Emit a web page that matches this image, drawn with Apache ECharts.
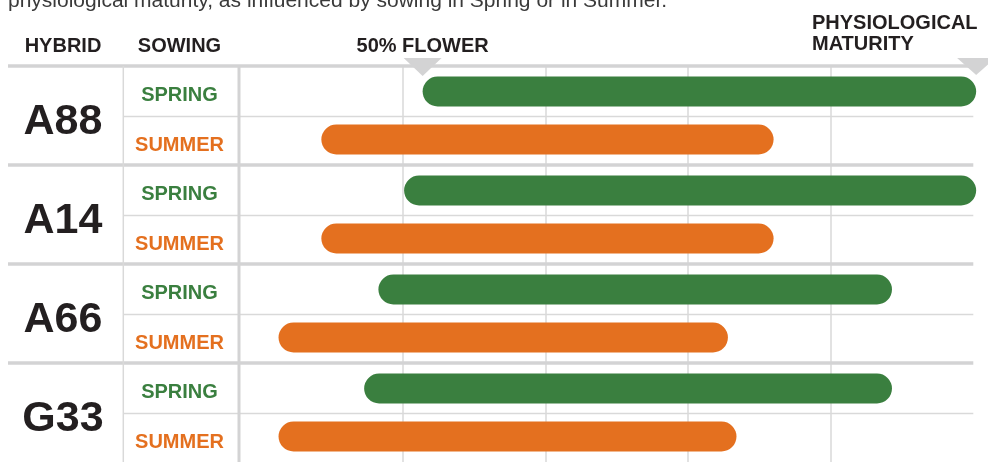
<!DOCTYPE html>
<html><head><meta charset="utf-8">
<script src="https://cdn.jsdelivr.net/npm/echarts@6/dist/echarts.min.js"></script>
<style>html,body{margin:0;padding:0;background:#fff;overflow:hidden}#c{width:988px;height:462px}</style>
</head><body><div id="c"></div>
<script>
// ---- data ----
const hybrids = ['A88', 'A14', 'A66', 'G33'];
const sowings = ['SPRING', 'SUMMER'];
const springStart = [11.4, 10.1, 8.3, 7.3];
const springEnd   = [50.2, 50.2, 44.3, 44.3];
const summerStart = [4.3, 4.3, 1.3, 1.3];
const summerEnd   = [36.0, 36.0, 32.8, 33.4];
const headerLabels = ['HYBRID', 'SOWING', '50% FLOWER', 'PHYSIOLOGICAL\nMATURITY'];
const subtitle = 'physiological maturity, as influenced by sowing in Spring or in Summer.';

// ---- style ----
const FONT = '"Liberation Sans", Arial, sans-serif';
const GREEN = '#3a7f3f';
const ORANGE = '#e4701f';
const DARK = '#231f20';
const LINE = '#d9d9d9';
const THICK = '#d3d3d4';

const chart = echarts.init(document.getElementById('c'), null, {renderer: 'canvas'});
const springLen = springEnd.map((e, i) => +(e - springStart[i]).toFixed(2));
const summerLen = summerEnd.map((e, i) => +(e - summerStart[i]).toFixed(2));

const baseBar = {type: 'bar', barWidth: 30, barGap: '60%', silent: true, clip: false,
  itemStyle: {color: 'rgba(0,0,0,0)'}, emphasis: {disabled: true}};
const rangeBar = {type: 'bar', barWidth: 30, barGap: '60%', clip: false, emphasis: {disabled: true}};

chart.setOption({
  animation: false,
  grid: {left: 260, top: 66, width: 713.3, height: 403, containLabel: false},
  xAxis: {
    type: 'value', min: 0, max: 50, interval: 10,
    axisLine: {show: false}, axisTick: {show: false}, axisLabel: {show: false},
    splitLine: {show: true, showMinLine: false, showMaxLine: false, lineStyle: {color: LINE, width: 1.5}}
  },
  yAxis: {
    type: 'category', data: hybrids, inverse: true,
    axisLine: {show: false}, axisTick: {show: false}, splitLine: {show: false},
    axisLabel: {show: false}
  },
  series: [
    Object.assign({}, baseBar, {name: 'springBase', stack: 'spring', data: springStart}),
    Object.assign({}, rangeBar, {name: sowings[0], stack: 'spring', data: springLen,
      itemStyle: {color: GREEN, borderRadius: 15}}),
    Object.assign({}, baseBar, {name: 'summerBase', stack: 'summer', data: summerStart}),
    Object.assign({}, rangeBar, {name: sowings[1], stack: 'summer', data: summerLen,
      itemStyle: {color: ORANGE, borderRadius: 15}})
  ]
});

const yc = h => chart.convertToPixel({yAxisIndex: 0}, h);
const xp = v => chart.convertToPixel({xAxisIndex: 0}, v);
const band = yc(hybrids[1]) - yc(hybrids[0]);
const xRight = xp(50);
const topY = yc(hybrids[0]) - band / 2;
const els = [];

function txt(x, y, text, opt) {
  els.push({type: 'text', x: x, y: y, z: 5, silent: true,
    style: Object.assign({text: text, fontFamily: FONT, fontSize: 20, fontWeight: 'bold',
      fill: DARK, align: 'center', verticalAlign: 'middle'}, opt || {})});
}
function line(x1, y1, x2, y2, w, c) {
  els.push({type: 'line', z: 0, silent: true, shape: {x1, y1, x2, y2},
    style: {stroke: c, lineWidth: w}});
}

// subtitle (cut at top)
txt(8, 12, subtitle, {fontWeight: 'normal', fontSize: 21, fill: '#3a3a3a', align: 'left', verticalAlign: 'bottom'});
// headers
txt(63, 46, headerLabels[0]);
txt(179.5, 46, headerLabels[1]);
txt(xp(springStart[0]), 46, headerLabels[2]);
txt(812, 34, headerLabels[3], {align: 'left', lineHeight: 21.5});

// table lines and row labels
hybrids.forEach((h, i) => {
  const c = yc(h);
  line(8, c - band / 2, xRight, c - band / 2, 3.5, THICK);
  line(123.3, c + 1, xRight, c + 1, 1.5, LINE);
  txt(63, c + 7, h, {fontSize: 43});
  txt(179.5, c - 20, sowings[0], {fill: GREEN});
  txt(179.5, c + 30, sowings[1], {fill: ORANGE});
});
line(123.3, topY, 123.3, 470, 1.5, LINE);
line(239, topY, 239, 470, 3, THICK);

// markers
const fx = xp(springStart[0]);
const mx = xp(springEnd[0]);
els.push({type: 'polygon', z: 1, silent: true, shape: {points: [[fx - 19, 58], [fx + 19, 58], [fx, 76]]}, style: {fill: THICK}});
els.push({type: 'polygon', z: 1, silent: true, shape: {points: [[mx - 19, 58], [mx + 19, 58], [mx, 75]]}, style: {fill: THICK}});

chart.setOption({graphic: {elements: els}});
</script>
</body></html>
